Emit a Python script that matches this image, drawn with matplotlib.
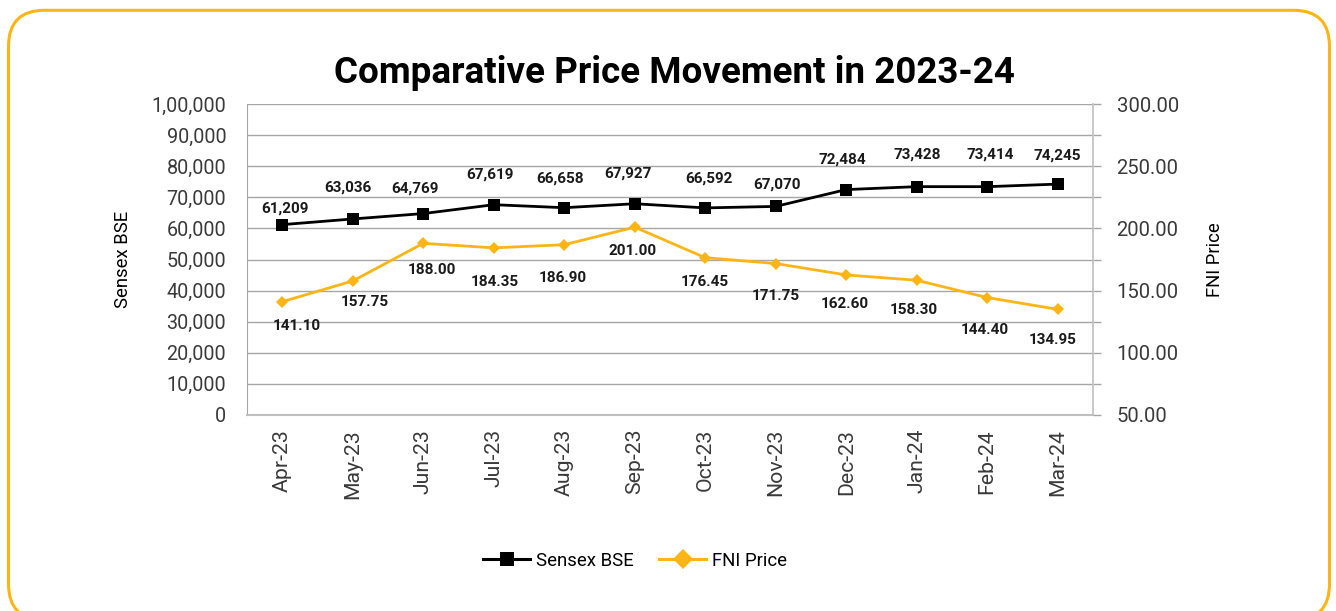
import matplotlib
matplotlib.use("Agg")
import matplotlib.pyplot as plt
from matplotlib.patches import FancyBboxPatch
from matplotlib.transforms import IdentityTransform
from matplotlib.lines import Line2D

# ---------------- data ----------------
months = ["Apr-23", "May-23", "Jun-23", "Jul-23", "Aug-23", "Sep-23",
          "Oct-23", "Nov-23", "Dec-23", "Jan-24", "Feb-24", "Mar-24"]
sensex = [61209, 63036, 64769, 67619, 66658, 67927,
          66592, 67070, 72484, 73428, 73414, 74245]
fni = [141.10, 157.75, 188.00, 184.35, 186.90, 201.00,
       176.45, 171.75, 162.60, 158.30, 144.40, 134.95]
sensex_ticks = [0, 10000, 20000, 30000, 40000, 50000,
                60000, 70000, 80000, 90000, 100000]
sensex_tick_labels = ["0", "10,000", "20,000", "30,000", "40,000", "50,000",
                      "60,000", "70,000", "80,000", "90,000", "1,00,000"]
fni_ticks = [50, 100, 150, 200, 250, 300]
title = "Comparative Price Movement in 2023-24"

# ---------------- style ----------------
W, H, DPI = 1336, 611, 100
YELLOW = "#FDB515"
GRID = "#A6A6A6"
TICKC = "#3A3A3A"
FONT = ["Roboto", "DejaVu Sans"]
# label offsets (pixels) relative to each marker
sensex_lbl_dx = [3, -5, -8, -4, -4, -7, 4, 1, -4, 0, 3, 0]
sensex_lbl_dy = [16, 31, 25, 30, 29, 30, 29, 22, 30, 32, 32, 29]
fni_lbl_dx = [14, 12, 9, 1, -1, -2, -1, 0, -1, -3, -2, -5]
fni_lbl_dy = [-24, -21, -27, -34, -33, -24, -24, -32, -29, -30, -32, -31]

plt.rcParams["font.family"] = FONT

fig = plt.figure(figsize=(W / DPI, H / DPI), dpi=DPI)
fig.patch.set_facecolor("white")

# rounded border
border = FancyBboxPatch((8.5, -9), 1329.5 - 8.5, (611 - 10.3) + 9,
                        boxstyle="round,pad=0,rounding_size=36",
                        transform=IdentityTransform(), fill=False,
                        edgecolor=YELLOW, linewidth=2.2, zorder=0)
fig.add_artist(border)

left_px, right_px, top_px, bot_px = 247, 1093, 104, 415
ax = fig.add_axes([left_px / W, (H - bot_px) / H,
                   (right_px - left_px) / W, (bot_px - top_px) / H])
ax2 = ax.twinx()

x = list(range(len(months)))

ax.plot(x, sensex, color="black", lw=2.0, marker="s", ms=8.2,
        markeredgewidth=0, zorder=3, label="Sensex BSE")
ax2.plot(x, fni, color=YELLOW, lw=2.0, marker="D", ms=6.6,
         markeredgewidth=0, zorder=3, label="FNI Price")

ax.set_xlim(-0.5, len(months) - 0.5)
ax.set_ylim(0, 100000)
ax2.set_ylim(50, 300)

ax.set_yticks(sensex_ticks)
ax.set_yticklabels(sensex_tick_labels)
ax.set_xticks(x)
ax.set_xticklabels(months, rotation=90)
ax2.set_yticks(fni_ticks)
ax2.set_yticklabels([f"{v:.2f}" for v in fni_ticks])
ax2.set_yticks([75, 125, 175, 225, 275], minor=True)

ax.grid(axis="y", color=GRID, lw=1.0)
ax.set_axisbelow(True)

for a in (ax, ax2):
    for s in a.spines.values():
        s.set_visible(False)
ax.spines["left"].set_visible(True)
ax.spines["left"].set_color(GRID)
ax.spines["bottom"].set_visible(True)
ax.spines["bottom"].set_color("#BFBFBF")
ax.spines["bottom"].set_linewidth(1.5)
ax2.spines["right"].set_visible(True)
ax2.spines["right"].set_color("#BFBFBF")
ax2.spines["right"].set_linewidth(1.2)

ax.tick_params(axis="y", length=0, pad=15, labelsize=14.2, labelcolor=TICKC)
ax.tick_params(axis="x", length=0, pad=10, labelsize=15.3, labelcolor=TICKC)
ax2.tick_params(axis="y", which="both", length=6, width=1, color=GRID,
                pad=11, labelsize=14.6, labelcolor=TICKC)

# axis titles
ax.set_ylabel("Sensex BSE", fontsize=13.3, color="black")
ax.yaxis.label.set_va("center")
ax.yaxis.set_label_coords((123 - left_px) / (right_px - left_px), 0.5)
ax2.set_ylabel("FNI Price", fontsize=13.3, color="black")
ax2.yaxis.label.set_va("center")
ax2.yaxis.set_label_coords((1215 - left_px) / (right_px - left_px), 0.5)

# data labels
for i in x:
    ax.annotate(f"{sensex[i]:,}", (i, sensex[i]),
                xytext=(sensex_lbl_dx[i], sensex_lbl_dy[i]),
                textcoords="offset pixels", ha="center", va="center",
                fontsize=11, fontweight="bold", color="#1A1A1A", zorder=5)
    ax2.annotate(f"{fni[i]:.2f}", (i, fni[i]),
                 xytext=(fni_lbl_dx[i], fni_lbl_dy[i]),
                 textcoords="offset pixels", ha="center", va="center",
                 fontsize=11, fontweight="bold", color="#1A1A1A", zorder=5)

# title
fig.text(674 / W, (H - 73) / H, title, ha="center", va="center",
         fontsize=26.5, fontweight="bold", color="black")

# legend
handles = [Line2D([], [], color="black", lw=2.2, marker="s", ms=9.5,
                  markeredgewidth=0),
           Line2D([], [], color=YELLOW, lw=2.2, marker="D", ms=10,
                  markeredgewidth=0)]
fig.legend(handles, ["Sensex BSE", "FNI Price"], loc="center",
           bbox_to_anchor=(635 / W, (H - 561) / H), ncol=2, frameon=False,
           fontsize=13.4, handlelength=2.5, handletextpad=0.3,
           columnspacing=1.4)

fig.savefig("out.png", dpi=DPI, facecolor="white")
